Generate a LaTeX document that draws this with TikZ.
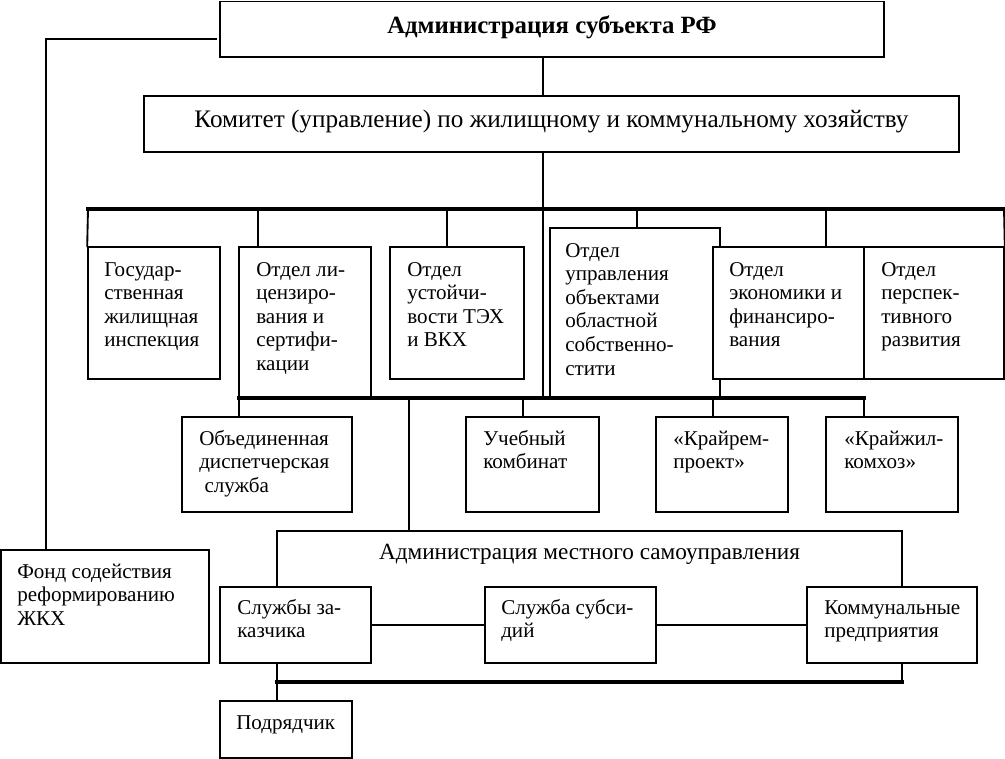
\documentclass[tikz,border=0pt]{standalone}
\usepackage{fontspec}
\setmainfont{Liberation Serif}
\usetikzlibrary{fit}
\newcommand\rfont{\fontsize{15.8}{17.7}\selectfont}
\newcommand\lns[1]{\begin{tabular}[t]{@{}l@{}}#1\end{tabular}}
\begin{document}
\begin{tikzpicture}[x=0.75pt,y=-0.75pt,
  box/.style={draw, line width=1.2pt, fill=white, inner sep=0pt},
  thinl/.style={line width=0.85pt},
  midl/.style={line width=1.4pt, line cap=rect},
  bus/.style={line width=2.4pt, line cap=rect},
  txt/.style={anchor=base west, inner sep=0pt, font=\rfont}]
\useasboundingbox (0,0) rectangle (1005,759);
% boxes
\node[box, fit={(220,1.5) (884,57)}] (top) {};
\node[box, fit={(144,96) (959,152)}] (com) {};
\node[box, fit={(88,247) (220,379)}] (gos) {};
\node[box, fit={(239,247) (371,398)}] (lic) {};
\node[box, fit={(390,247) (524,379)}] (tex) {};
\node[box, fit={(550,228) (720,398)}] (upr) {};
\node[box, fit={(713,247) (864,379)}] (econ) {};
\node[box, fit={(864,247) (1004,379)}] (persp) {};
\node[box, fit={(182,417) (352,512)}] (ods) {};
\node[box, fit={(466,417) (599,512)}] (uch) {};
\node[box, fit={(656,417) (788,512)}] (krem) {};
\node[box, fit={(826,417) (958,512)}] (kzh) {};
\node[box, fit={(277,531) (902,682)}] (loc) {};
\node[box, fit={(220,587) (371,663)}] (sz) {};
\node[box, fit={(485,587) (656,663)}] (ss) {};
\node[box, fit={(807,587) (977,663)}] (kp) {};
\node[box, fit={(220,701) (352,758)}] (podr) {};
\node[box, fit={(0.8,550) (209,663)}] (fond) {};
% helper coordinates
\coordinate (fl) at (216,39);
\coordinate (fx) at (46,0);
\coordinate (sp) at (543,0);
\coordinate (b1L) at (88,209);
\coordinate (b1R) at (1004,209);
\coordinate (x258) at (258,0);
\coordinate (x447) at (447,0);
\coordinate (x637) at (637,0);
\coordinate (x826) at (826,0);
\coordinate (b2L) at (239,398);
\coordinate (b2R) at (864,398);
\coordinate (x409) at (409,0);
\coordinate (x523) at (523,0);
\coordinate (x713) at (713,0);
\coordinate (b3L) at (277,682);
\coordinate (b3R) at (902,682);
% connectors
\draw[midl] (fl) -| (fond.north -| fx);
\draw[thinl] (top.south -| sp) -- (com.north -| sp);
\draw[thinl] (com.south -| sp) -- (sp |- b2L);
\draw[bus] (b1L) -- (b1R);
\draw[midl] (b1L) -- (gos.north west);
\draw[midl] (x258 |- b1L) -- (x258 |- lic.north);
\draw[thinl] (x447 |- b1L) -- (x447 |- tex.north);
\draw[midl] (x637 |- b1L) -- (x637 |- upr.north);
\draw[midl] (x826 |- b1L) -- (x826 |- econ.north);
\draw[midl] (b1R) -- (persp.north east);
\draw[bus] (b2L) -- (b2R);
\draw[midl] (b2L) -- (b2L |- ods.north);
\draw[thinl] (x409 |- b2L) -- (x409 |- loc.north);
\draw[midl] (x523 |- b2L) -- (x523 |- uch.north);
\draw[midl] (x713 |- b2L) -- (x713 |- krem.north);
\draw[midl] (b2R) -- (b2R |- kzh.north);
\draw[midl] (sz.east) -- (ss.west);
\draw[midl] (ss.east) -- (kp.west);
\draw[bus] (b3L) -- (b3R);
\draw[midl] (b3L) -- (b3L |- podr.north);
% texts
\node[txt, anchor=base, font=\fontsize{18.6}{20}\selectfont\bfseries] (ttop) at (552,34) {Администрация субъекта РФ};
\node[txt, anchor=base, font=\fontsize{18.9}{20}\selectfont] (tcom) at (551.5,128) {Комитет (управление) по жилищному и коммунальному хозяйству};
\node[txt] (tgos) at (104,276) {\lns{Государ-\\ственная\\жилищная\\инспекция}};
\node[txt] (tlic) at (256,276) {\lns{Отдел ли-\\цензиро-\\вания и\\сертифи-\\кации}};
\node[txt] (ttex) at (407,276) {\lns{Отдел\\устойчи-\\вости ТЭХ\\и ВКХ}};
\node[txt] (tupr) at (565,257) {\lns{Отдел\\управления\\объектами\\областной\\собственно-\\стити}};
\node[txt] (tecon) at (729,276) {\lns{Отдел\\экономики и\\финансиро-\\вания}};
\node[txt] (tpersp) at (881,276) {\lns{Отдел\\перспек-\\тивного\\развития}};
\node[txt] (tods) at (199,445) {\lns{Объединенная\\диспетчерская\\\ служба}};
\node[txt] (tuch) at (483,445) {\lns{Учебный\\комбинат}};
\node[txt] (tkrem) at (673,445) {\lns{«Крайрем-\\проект»}};
\node[txt] (tkzh) at (844,445) {\lns{«Крайжил-\\комхоз»}};
\node[txt, anchor=base, font=\fontsize{17.4}{20}\selectfont] (tloc) at (589.5,559) {Администрация местного самоуправления};
\node[txt] (tsz) at (237,614) {\lns{Службы за-\\казчика}};
\node[txt] (tss) at (501,614) {\lns{Служба субси-\\дий}};
\node[txt] (tkp) at (824,614) {\lns{Коммунальные\\предприятия}};
\node[txt] (tfond) at (17,578) {\lns{Фонд содействия\\реформированию\\ЖКХ}};
\node[txt] (tpodr) at (236,729) {Подрядчик};
\end{tikzpicture}
\end{document}
